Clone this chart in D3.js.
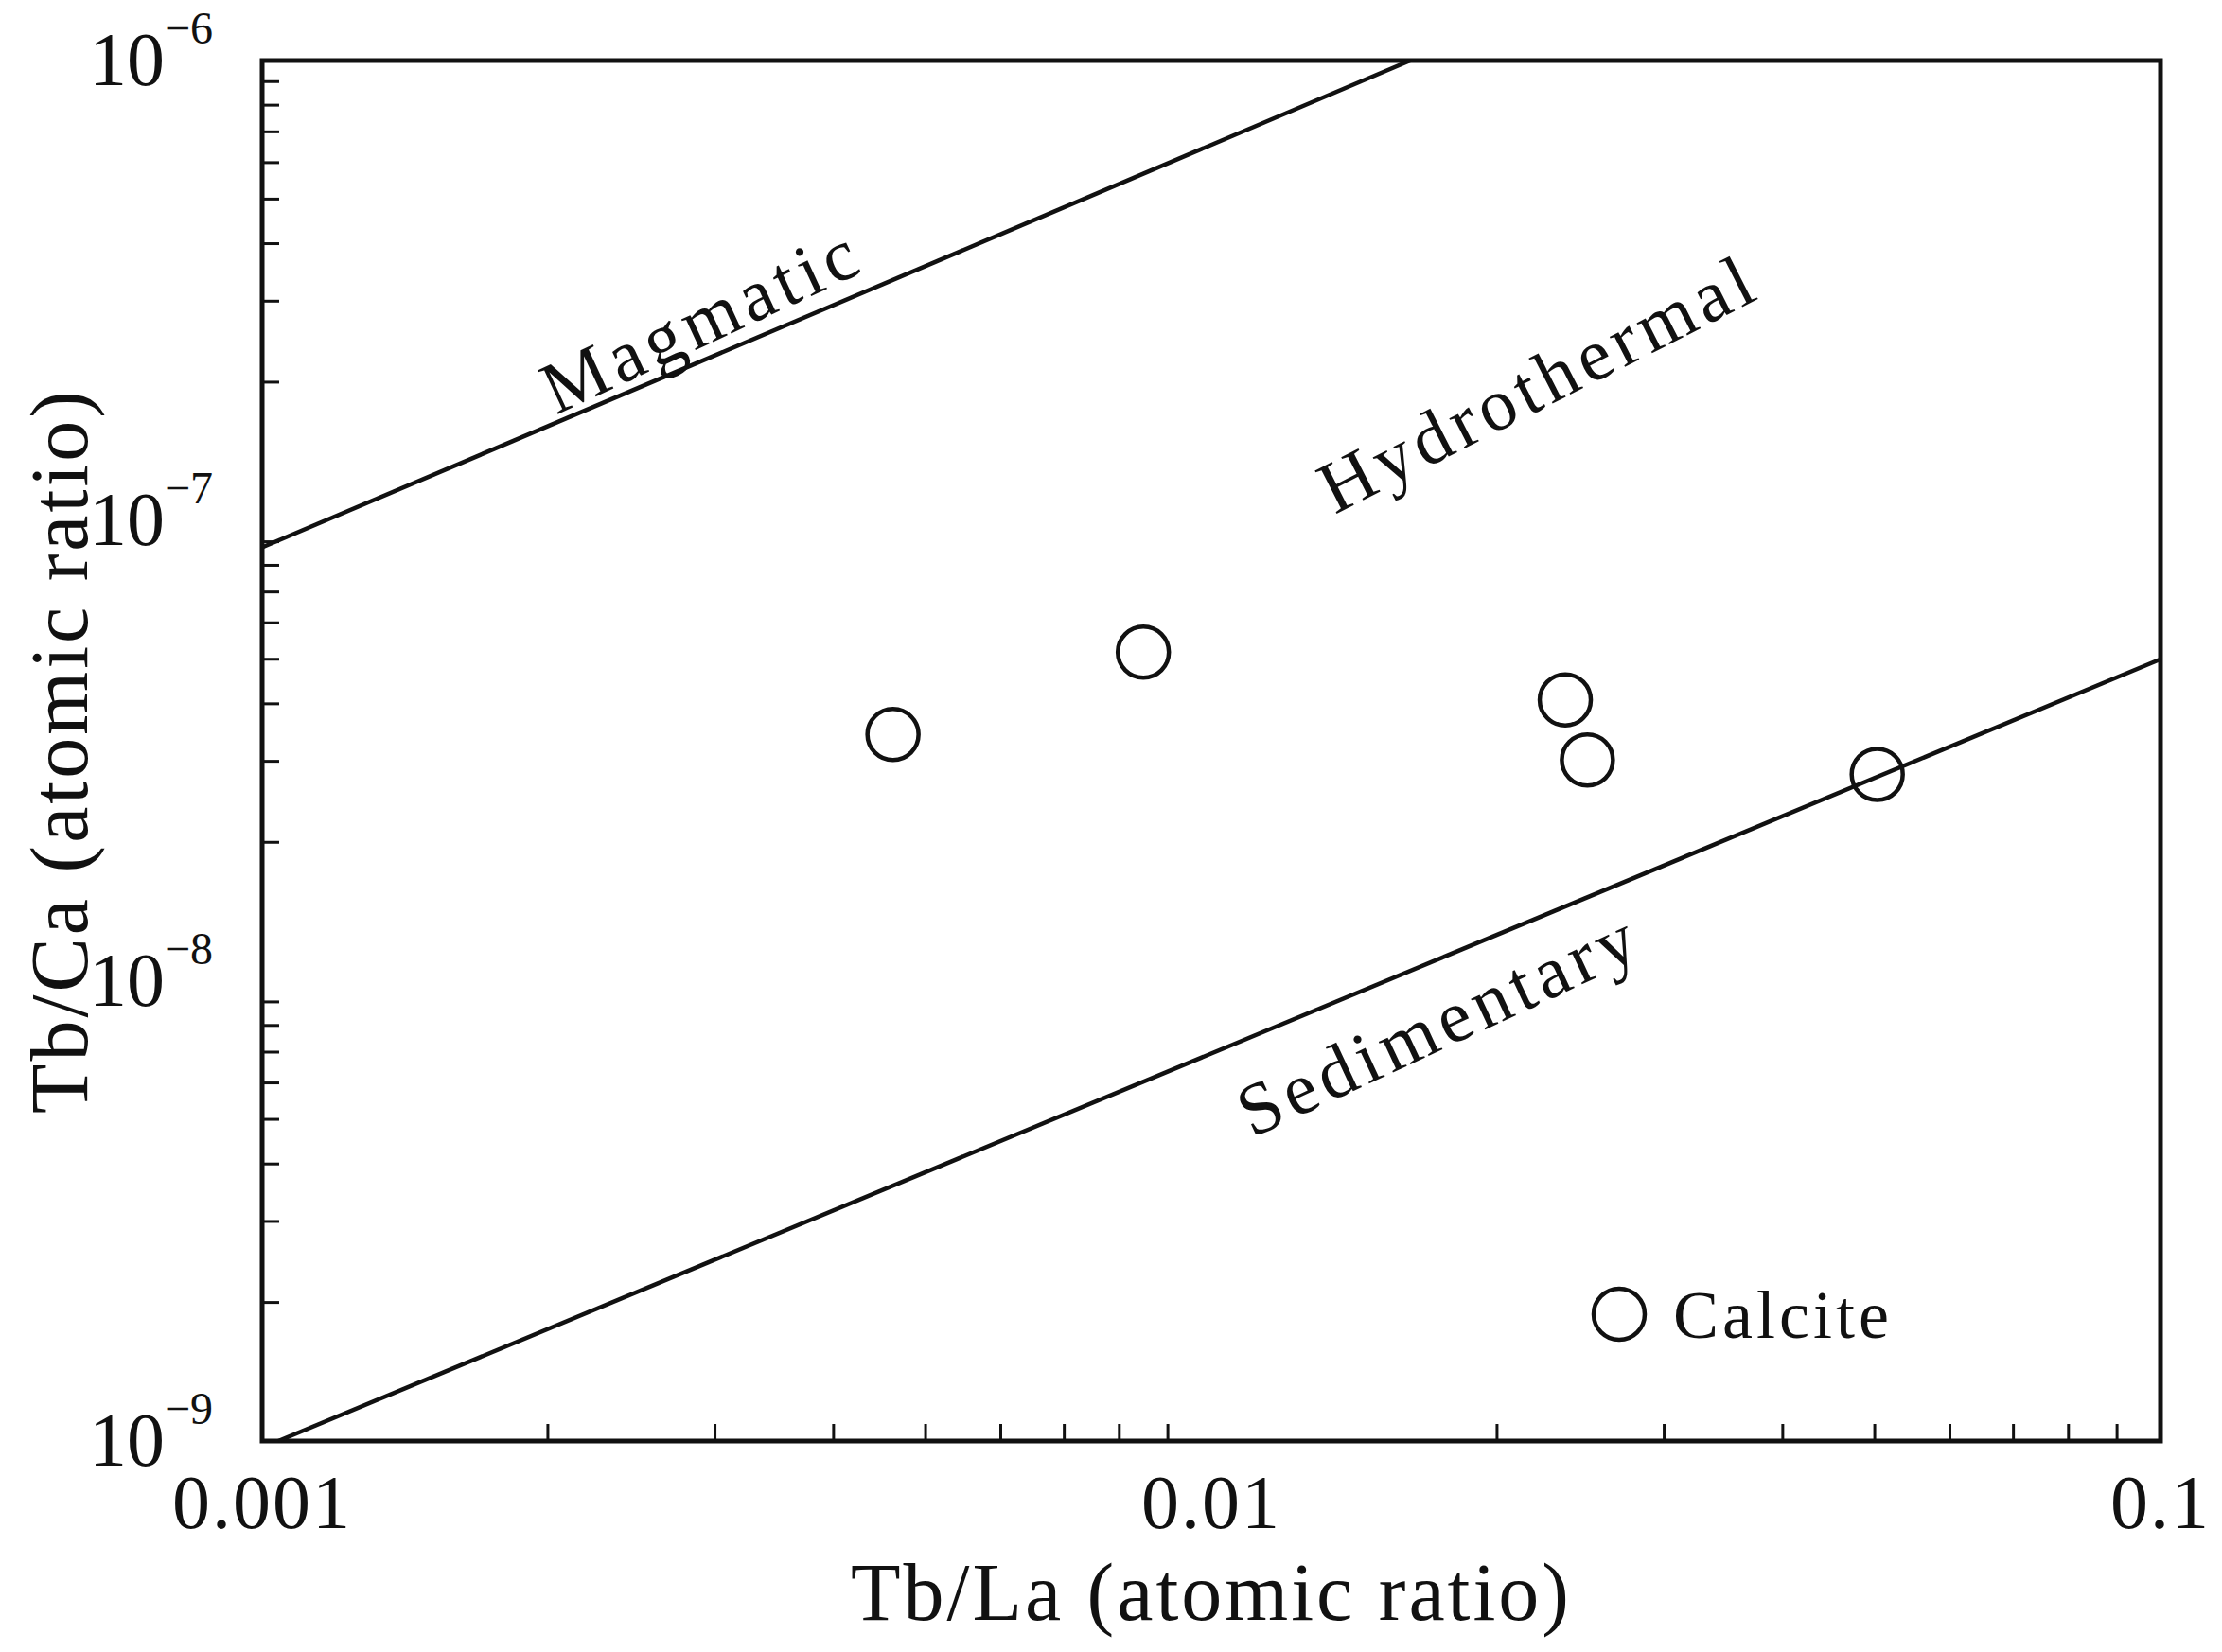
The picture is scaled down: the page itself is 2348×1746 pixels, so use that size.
<!DOCTYPE html>
<html><head><meta charset="utf-8">
<script src="https://cdn.jsdelivr.net/npm/d3@7"></script>
<style>body{margin:0;background:#fff}text{font-family:"Liberation Serif",serif;fill:#111}</style>
</head><body>
<script>
// calcite samples, Tb/La vs Tb/Ca
var tbLa = [0.00462, 0.00848, 0.0236, 0.0249, 0.0503];
var tbCa = [3.43e-8, 5.18e-8, 4.08e-8, 3.02e-8, 2.81e-8];
// boundary lines (end points in data units)
var magmaticLine = [[0.001, 8.75e-8], [0.0162, 1e-6]];
var sedimentaryLine = [[0.00104, 1e-9], [0.1, 5.0e-8]];
var xTicks = [0.001, 0.01, 0.1];
var xTickLabels = ["0.001", "0.01", "0.1"];
var yTicks = [1e-9, 1e-8, 1e-7, 1e-6];
var yExps = ["\u22129", "\u22128", "\u22127", "\u22126"];

var width = 2348, height = 1746;
var margin = {top: 64, right: 65, bottom: 223, left: 277};

var svg = d3.select("body").append("svg")
  .attr("width", width).attr("height", height);

var x = d3.scaleLog().domain([0.001, 0.1]).range([margin.left, width - margin.right]);
var y = d3.scaleLog().domain([1e-9, 1e-6]).range([height - margin.bottom, margin.top]);

// minor ticks (inward) on left and bottom
var xMinor = [], yMinor = [];
[0.001, 0.01].forEach(function(d){ for (var k = 2; k <= 9; k++) xMinor.push(d * k); });
[1e-9, 1e-8, 1e-7].forEach(function(d){ for (var k = 2; k <= 9; k++) yMinor.push(d * k); });

svg.append("g").selectAll("line").data(xMinor).enter().append("line")
  .attr("x1", d => x(d)).attr("x2", d => x(d))
  .attr("y1", y(1e-9)).attr("y2", y(1e-9) - 18)
  .style("stroke", "#111").style("stroke-width", 3);
svg.append("g").selectAll("line").data(yMinor).enter().append("line")
  .attr("x1", x(0.001)).attr("x2", x(0.001) + 18)
  .attr("y1", d => y(d)).attr("y2", d => y(d))
  .style("stroke", "#111").style("stroke-width", 3);

// frame
svg.append("rect")
  .attr("x", x(0.001)).attr("y", y(1e-6))
  .attr("width", x(0.1) - x(0.001)).attr("height", y(1e-9) - y(1e-6))
  .style("fill", "none").style("stroke", "#111").style("stroke-width", 5);

// boundary lines
var line = d3.line().x(d => x(d[0])).y(d => y(d[1]));
[magmaticLine, sedimentaryLine].forEach(function(l){
  svg.append("path").attr("d", line(l))
    .style("fill", "none").style("stroke", "#111").style("stroke-width", 4.5);
});

// tick labels
svg.append("g").selectAll("text").data(xTicks).enter().append("text")
  .attr("x", d => x(d)).attr("y", y(1e-9) + 92)
  .style("text-anchor", "middle").style("font-size", "80px").style("letter-spacing", "2px")
  .text((d, i) => xTickLabels[i]);

var yl = svg.append("g").selectAll("text").data(yTicks).enter().append("text")
  .attr("x", x(0.001) - 52).attr("y", d => y(d) + 26)
  .style("text-anchor", "end").style("font-size", "80px");
yl.append("tspan").text("10");
yl.append("tspan").attr("dy", -44).style("font-size", "48px").text((d, i) => yExps[i]);

// axis titles
svg.append("text")
  .attr("x", (x(0.001) + x(0.1)) / 2).attr("y", 1712)
  .style("text-anchor", "middle").style("font-size", "86px").style("letter-spacing", "3px")
  .text("Tb/La (atomic  ratio)");
svg.append("text")
  .attr("transform", "translate(92," + ((y(1e-9) + y(1e-6)) / 2) + ") rotate(-90)")
  .style("text-anchor", "middle").style("font-size", "86px").style("letter-spacing", "3px")
  .text("Tb/Ca (atomic  ratio)");

// field labels
var fields = [
  {name: "Magmatic", cx: 741, cy: 337, a: -25},
  {name: "Hydrothermal", cx: 1625, cy: 404, a: -27},
  {name: "Sedimentary", cx: 1520, cy: 1081, a: -25}
];
svg.append("g").selectAll("text").data(fields).enter().append("text")
  .attr("transform", d => "translate(" + d.cx + "," + d.cy + ") rotate(" + d.a + ")")
  .attr("dy", "0.35em")
  .style("text-anchor", "middle").style("font-size", "78px").style("letter-spacing", "6px")
  .text(d => d.name);

// samples
svg.append("g").selectAll("circle").data(tbLa).enter().append("circle")
  .attr("cx", d => x(d)).attr("cy", (d, i) => y(tbCa[i])).attr("r", 27)
  .style("fill", "none").style("stroke", "#111").style("stroke-width", 4.5);

// legend
svg.append("circle").attr("cx", 1711).attr("cy", 1389).attr("r", 27)
  .style("fill", "none").style("stroke", "#111").style("stroke-width", 4.5);
svg.append("text").attr("x", 1768).attr("y", 1414)
  .style("font-size", "72px").style("letter-spacing", "4px").text("Calcite");
</script>
</body></html>
